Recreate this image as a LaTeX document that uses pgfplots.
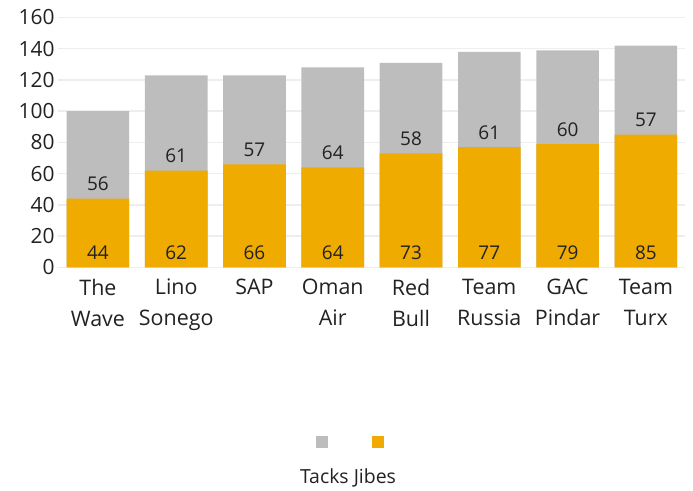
\documentclass[border=0pt]{standalone}
\usepackage{pgfplots}
\pgfplotsset{compat=1.18}
\usepackage{pgfplotstable}
\usepackage{fontspec}
\setmainfont{Open Sans}

\definecolor{jibe}{HTML}{F0AB00}
\definecolor{tack}{HTML}{BDBDBD}
\definecolor{gridc}{HTML}{EEEEEE}
\definecolor{txt}{HTML}{222222}
\newcommand\lblfont{\fontsize{19}{22}\selectfont}
\tikzset{lbl/.style={anchor=base, text=txt, font=\lblfont}}

% jibes (bottom, orange) and tacks (top, grey) per team
\pgfplotstableread{
x jibes tacks
0 44 56
1 62 61
2 66 57
3 64 64
4 73 58
5 77 61
6 79 60
7 85 57
}\data

\begin{document}
\begin{tikzpicture}
\begin{axis}[
    name=ax,
    scale only axis,
    width=627bp, height=250bp,
    xmin=-0.51, xmax=7.5,
    ymin=0, ymax=160,
    ytick={0,20,...,160},
    xtick={0,...,7},
    xticklabels={{The\\Wave},{Lino\\Sonego},{SAP},{Oman\\Air},{Red\\Bull},{Team\\Russia},{GAC\\Pindar},{Team\\Turx}},
    axis line style={draw=none},
    major tick length=0pt,
    ymajorgrids,
    grid style={gridc, line width=1.5bp},
    /pgf/number format/assume math mode=true,
    yticklabel style={font=\fontsize{21}{24}\selectfont, text=txt},
    xticklabel style={font=\fontsize{21.5}{31}\selectfont, text=txt, align=center, yshift=-8bp},
    clip=false,
    legend style={at={(0.469,-0.699)}, anchor=center, draw=none, fill=none,
      legend columns=-1, inner sep=0pt,
      /tikz/every even column/.append style={column sep=40bp}},
    legend image code/.code={\fill[#1] (-6bp,-6bp) rectangle (6bp,6bp);},
  ]
\addplot[ybar, bar width=0.8, bar shift=0pt, fill=tack, draw=none]
  table[x=x, y expr=\thisrow{jibes}+\thisrow{tacks}] {\data};
\addlegendentry{\mbox{}}
\addplot[ybar, bar width=0.8, bar shift=0pt, fill=jibe, draw=none]
  table[x=x, y=jibes] {\data};
\addlegendentry{\mbox{}}
% value labels near the base of each segment
\addplot[forget plot, draw=none, mark=none, nodes near coords, point meta=explicit,
    nodes near coords style={lbl}]
  table[x=x, y expr=\thisrow{jibes}+5, meta=tacks] {\data};
\addplot[forget plot, draw=none, mark=none, nodes near coords, point meta=explicit,
    nodes near coords style={lbl}]
  table[x=x, y expr=5, meta=jibes] {\data};
\node[anchor=base, text=txt, font=\fontsize{19.5}{22}\selectfont] at (axis description cs:0.4625,-0.863) {Tacks Jibes};
\end{axis}
\path ([xshift=-58bp,yshift=-221bp]ax.south west) rectangle ([xshift=8bp,yshift=17.5bp]ax.north east);
\end{tikzpicture}
\end{document}
